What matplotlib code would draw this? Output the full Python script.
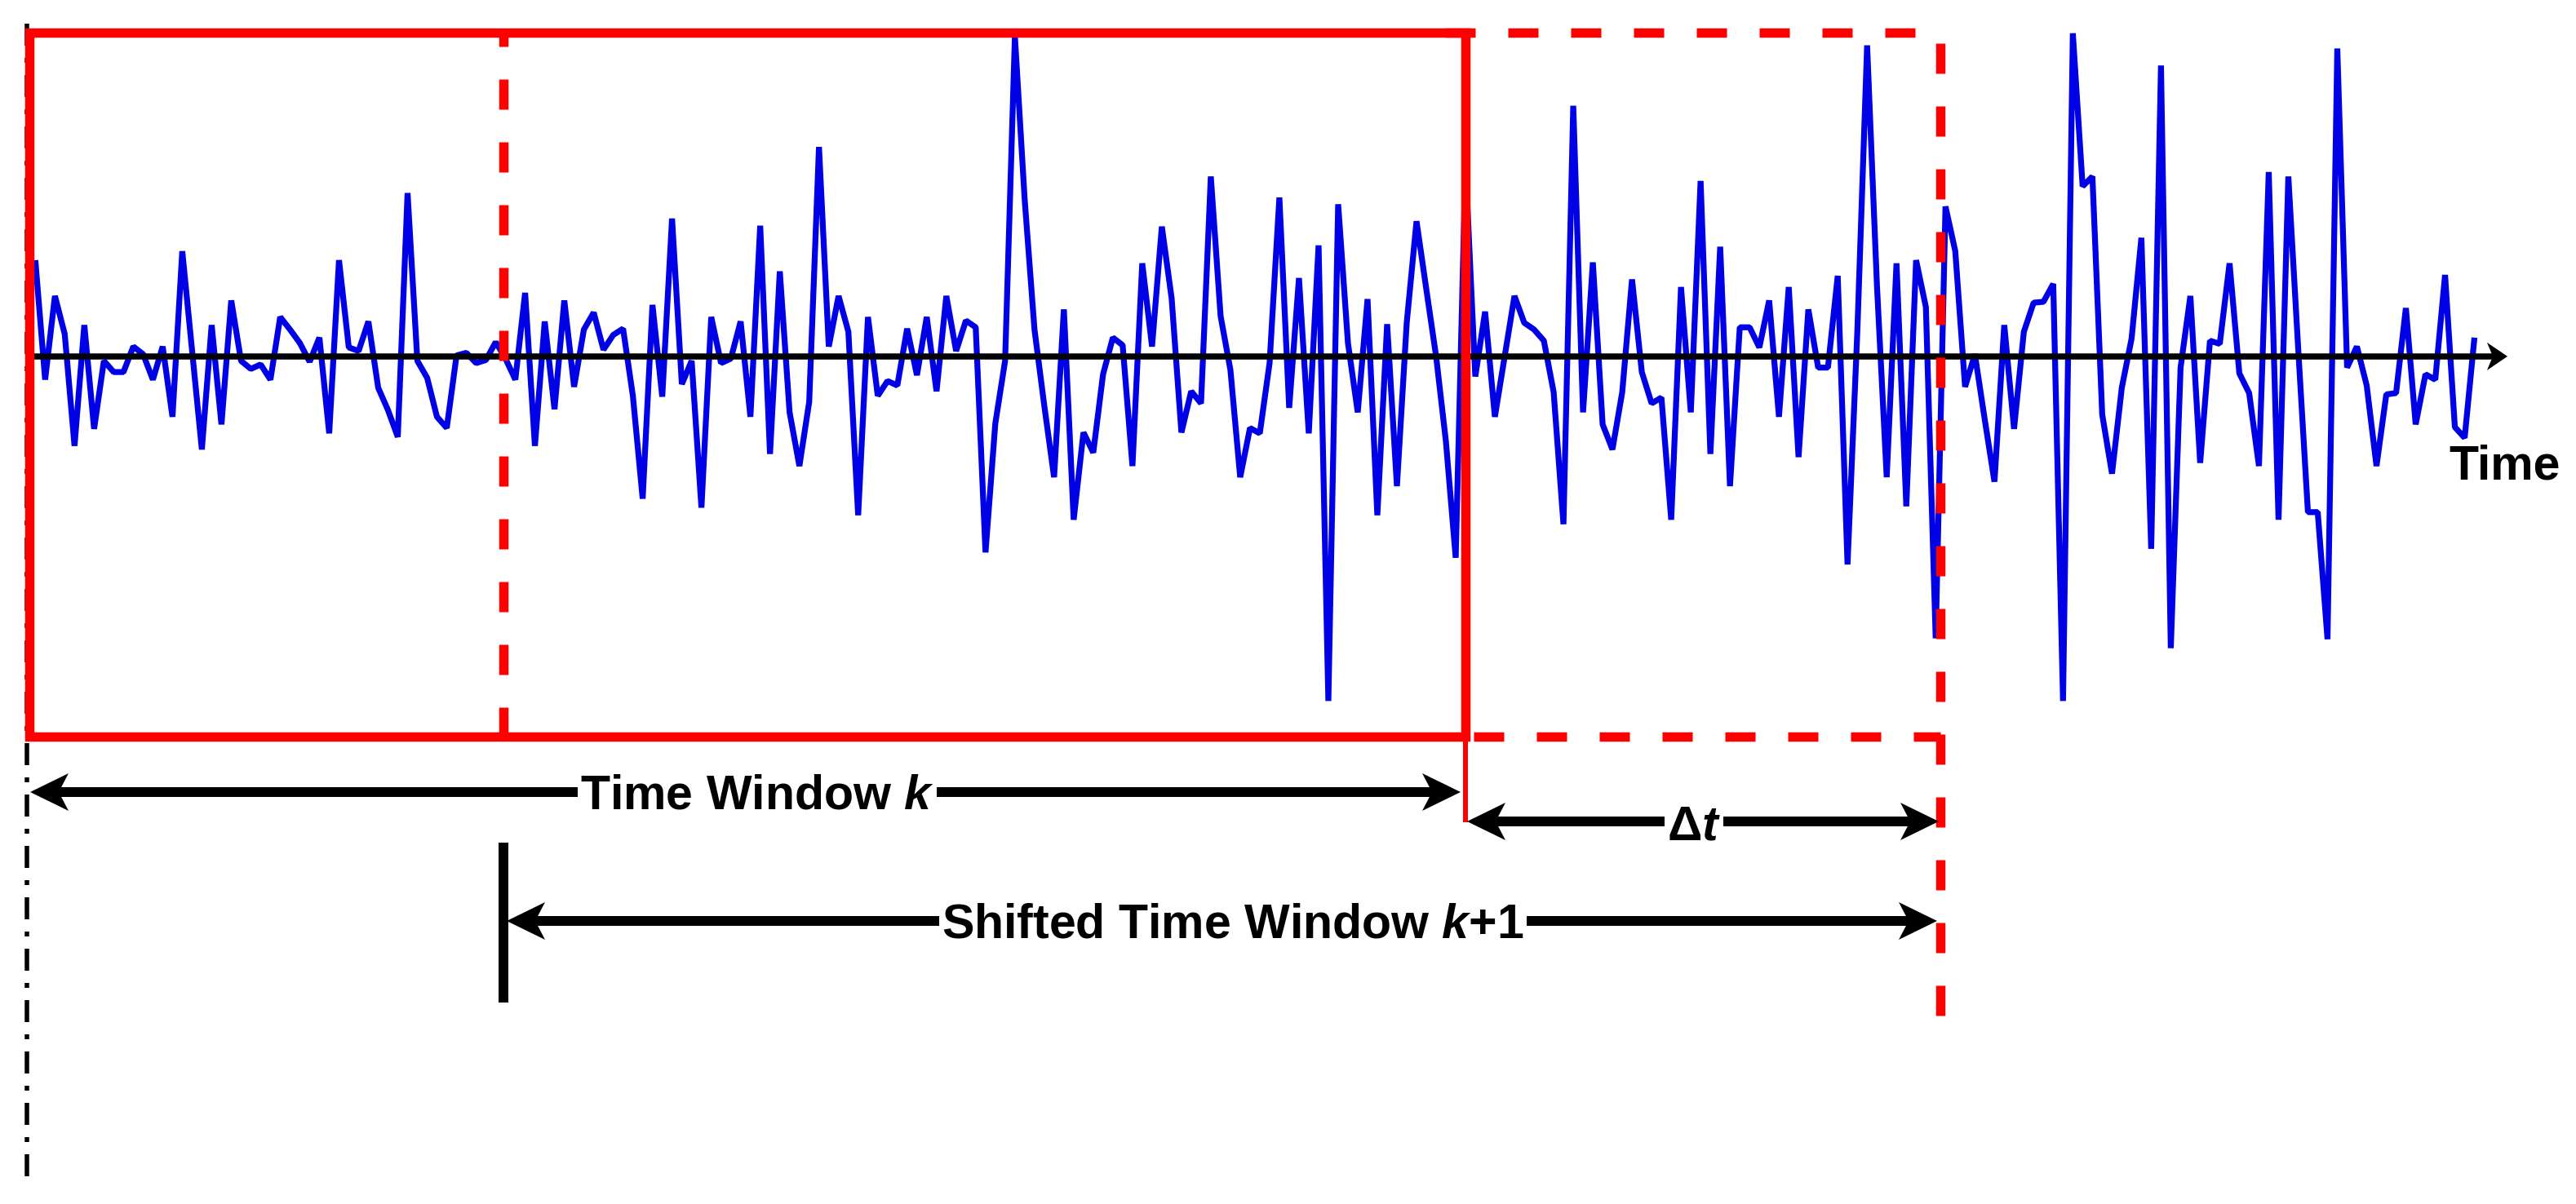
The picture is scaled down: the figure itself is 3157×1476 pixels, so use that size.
import matplotlib
matplotlib.use('Agg')
import matplotlib.pyplot as plt
from matplotlib.lines import Line2D
from matplotlib.patches import Polygon, Rectangle
import numpy as np

plt.rcParams['font.family'] = ['Liberation Sans', 'DejaVu Sans']
plt.rcParams['mathtext.fontset'] = 'custom'
plt.rcParams['mathtext.rm'] = 'Liberation Sans:bold'
plt.rcParams['mathtext.it'] = 'Liberation Sans:italic:bold'
plt.rcParams['mathtext.bf'] = 'Liberation Sans:bold'
plt.rcParams['lines.scale_dashes'] = False

# ---------------- data ----------------
signal = [
    2.15, -0.52, 1.35, 0.50, -2.00, 0.70, -1.62, -0.10, -0.35, -0.35,
    0.22, 0.05, -0.52, 0.22, -1.35, 2.35, 0.13, -2.08, 0.70, -1.52,
    1.25, -0.10, -0.28, -0.18, -0.52, 0.88, 0.60, 0.30, -0.12, 0.42,
    -1.72, 2.15, 0.20, 0.12, 0.78, -0.70, -1.20, -1.80, 3.65, -0.10,
    -0.48, -1.35, -1.60, 0.02, 0.08, -0.15, -0.08, 0.32, -0.05, -0.52,
    1.42, -2.00, 0.78, -1.18, 1.25, -0.68, 0.60, 0.98, 0.15, 0.48,
    0.62, -0.88, -3.18, 1.15, -0.90, 3.08, -0.62, -0.10, -3.38, 0.88,
    -0.15, -0.05, 0.78, -1.35, 2.92, -2.18, 1.90, -1.25, -2.45, -1.02,
    4.68, 0.22, 1.35, 0.55, -3.55, 0.88, -0.88, -0.55, -0.65, 0.62,
    -0.42, 0.88, -0.78, 1.35, 0.12, 0.80, 0.65, -4.38, -1.50, -0.10,
    7.15, 3.50, 0.60, -1.10, -2.70, 1.05, -3.65, -1.70, -2.15, -0.40,
    0.42, 0.25, -2.45, 2.08, 0.22, 2.90, 1.30, -1.70, -0.78, -1.05,
    4.02, 0.90, -0.30, -2.70, -1.60, -1.72, -0.15, 3.55, -1.15, 1.75,
    -1.72, 2.48, -7.70, 3.40, 0.30, -1.25, 1.28, -3.55, 0.72, -2.90,
    0.75, 3.02, 1.50, 0.00, -1.90, -4.50, 4.30, -0.45, 1.00, -1.35,
    0.00, 1.35, 0.75, 0.60, 0.35, -0.80, -3.75, 5.60, -1.25, 2.10,
    -1.52, -2.08, -0.80, 1.72, -0.35, -1.05, -0.92, -3.65, 1.55, -1.25,
    3.92, -2.18, 2.45, -2.90, 0.65, 0.65, 0.20, 1.25, -1.35, 1.55,
    -2.25, 1.05, -0.25, -0.25, 1.80, -4.65, 0.55, 6.95, 1.60, -2.70,
    2.08, -3.35, 2.15, 1.10, -6.30, 3.35, 2.35, -0.68, 0.05, -1.40,
    -2.80, 0.70, -1.62, 0.55, 1.20, 1.22, 1.62, -7.70, 7.22, 3.80,
    4.02, -1.30, -2.62, -0.70, 0.40, 2.65, -4.30, 6.50, -6.52, -0.25,
    1.35, -2.38, 0.35, 0.28, 2.08, -0.38, -0.82, -2.45, 4.12, -3.65,
    4.02, 0.20, -3.48, -3.48, -6.32, 6.88, -0.25, 0.22, -0.65, -2.45,
    -0.85, -0.82, 1.08, -1.52, -0.40, -0.52, 1.82, -1.58, -1.82, 0.42,
]
axis_label = "Time"
window_label = "Time Window $k$"
shift_label = "Shifted Time Window $k$+1"
delta_label = "\u0394$t$"

# ---------------- figure ----------------
W, H, DPI = 3157, 1476, 100
fig = plt.figure(figsize=(W / DPI, H / DPI), dpi=DPI, facecolor='white')

# signal axes (data units: sample index / amplitude)
sig = fig.add_axes([0, 0, 1, 1], zorder=1)
sig.patch.set_visible(False)
sig.axis('off')
x0_px, dx_px, y0_px, dy_px = 43.3, 12.005, 436.9, 54.86
sig.set_xlim(-x0_px / dx_px, (W - x0_px) / dx_px)
sig.set_ylim(-(H - y0_px) / dy_px, y0_px / dy_px)
sig.plot(np.arange(len(signal)), signal, color='#0000E6', lw=5.2,
         solid_joinstyle='bevel', solid_capstyle='butt')

# diagram axes in pixel units (top = 0)
ax = fig.add_axes([0, 0, 1, 1], zorder=2)
ax.patch.set_visible(False)
ax.axis('off')
ax.set_xlim(0, W)
ax.set_ylim(H, 0)

RED = '#FF0000'
PX = 72.0 / DPI  # points per pixel


def line(x, y, **kw):
    ax.add_line(Line2D(x, y, **kw))


def head(xt, y, d, L=47, hw=23, notch=12):
    pts = [(xt, y), (xt - d * L, y - hw), (xt - d * (L - notch), y), (xt - d * L, y + hw)]
    ax.add_patch(Polygon(pts, closed=True, facecolor='black', edgecolor='none', zorder=6))


def darrow(x1, x2, y, lw=12):
    line([x1 + 20, x2 - 20], [y, y], color='black', lw=lw * PX, solid_capstyle='butt', zorder=5)
    head(x1, y, -1)
    head(x2, y, 1)


# dash-dot reference line at left
line([33, 33], [29, 1449], color='black', lw=5.5 * PX,
     linestyle=(0, (27 * PX, 15 * PX, 6 * PX, 15 * PX)), dash_capstyle='butt', zorder=2)

# time axis
line([36, 3058], [y0_px, y0_px], color='black', lw=7.5 * PX, solid_capstyle='butt', zorder=3)
head(3073, y0_px, 1, L=25, hw=17, notch=7)

# red solid window k
ax.add_patch(Rectangle((36, 40), 1796 - 36, 903 - 40, fill=False, edgecolor=RED,
                       lw=11.5 * PX, joinstyle='miter', zorder=4))
line([1796, 1796], [903, 1008], color=RED, lw=6 * PX, solid_capstyle='butt', zorder=4)

# red dashed lines
dash = (37 * PX, 40 * PX)
dkw = dict(color=RED, lw=11.5 * PX, dash_capstyle='butt', zorder=4)
line([617, 617], [40, 903], linestyle=(20 * PX, dash), **dkw)
line([1771, 2378], [40, 40], linestyle=(0, dash), **dkw)
line([2378, 2378], [53, 1245], linestyle=(0, dash), **dkw)
line([1806, 2378], [903, 903], linestyle=(0, dash), **dkw)

# black tick at shifted window start
line([617, 617], [1033, 1229], color='black', lw=12 * PX, solid_capstyle='butt', zorder=5)

# double arrows
darrow(37, 1790, 971)
darrow(1798, 2376, 1007)
darrow(621, 2374, 1129)

# texts
tkw = dict(fontsize=42.5, fontweight='bold', ha='center', va='baseline', zorder=7,
           bbox=dict(facecolor='white', edgecolor='none', pad=2))
ax.text(928, 992, window_label, **tkw)
ax.text(1511, 1150, shift_label, **tkw)
ax.text(2076, 1030, delta_label, **tkw)
ax.text(3070, 588, axis_label, fontsize=42.5, fontweight='bold', ha='center', va='baseline')

fig.savefig('out.png', dpi=DPI, facecolor='white')
